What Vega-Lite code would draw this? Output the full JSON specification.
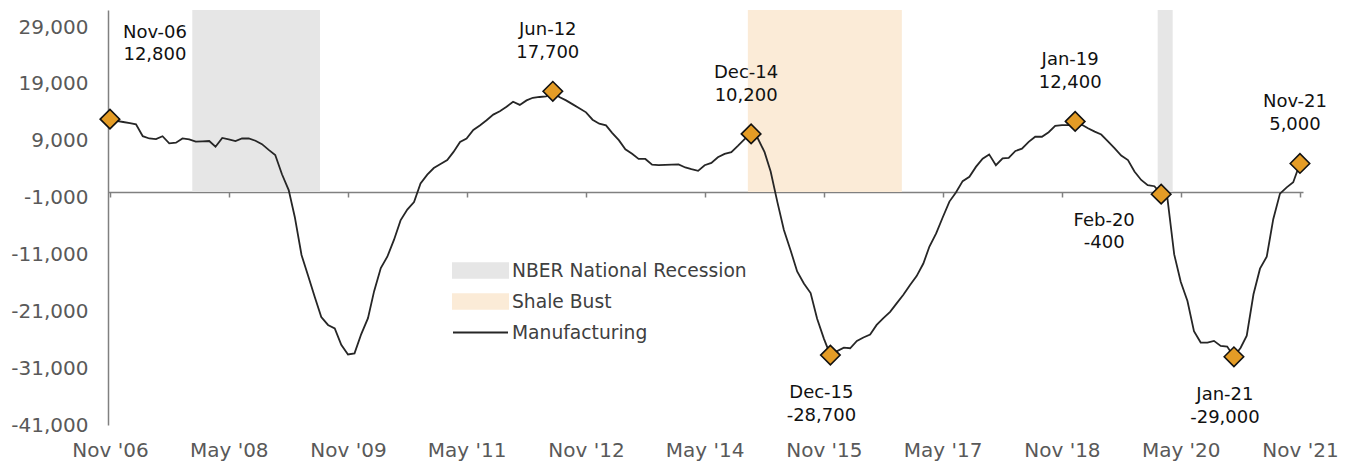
{
  "$schema": "https://vega.github.io/schema/vega-lite/v6.json",
  "width": 1195,
  "height": 415,
  "autosize": {"type": "none"},
  "padding": {"left": 108, "top": 10, "right": 46, "bottom": 40},
  "background": "white",
  "config": {
    "view": {"stroke": null},
    "font": "DejaVu Sans",
    "locale": {"number": {"decimal": ".", "thousands": ",", "grouping": [3], "currency": ["$", ""], "minus": "-"}}
  },
  "datasets": {
    "periods": [
      {"type": "NBER National Recession", "start": "2007-11-15", "end": "2009-06-25"},
      {"type": "Shale Bust", "start": "2014-11-16", "end": "2016-10-25"},
      {"type": "NBER National Recession", "start": "2020-01-16", "end": "2020-03-25"}
    ],
    "points": [
      {"label": "Nov-06", "date": "2006-11-01", "value": 12800},
      {"label": "Jun-12", "date": "2012-06-01", "value": 17700},
      {"label": "Dec-14", "date": "2014-12-01", "value": 10200},
      {"label": "Dec-15", "date": "2015-12-01", "value": -28700},
      {"label": "Jan-19", "date": "2019-01-01", "value": 12400},
      {"label": "Feb-20", "date": "2020-02-01", "value": -400},
      {"label": "Jan-21", "date": "2021-01-01", "value": -29000},
      {"label": "Nov-21", "date": "2021-11-01", "value": 5000}
    ],
    "series": [
      {"date": "2006-11-01", "value": 12800}, {"date": "2006-12-01", "value": 12500},
      {"date": "2007-01-01", "value": 12300}, {"date": "2007-02-01", "value": 12100}, {"date": "2007-03-01", "value": 11900}, {"date": "2007-04-01", "value": 9800}, {"date": "2007-05-01", "value": 9400}, {"date": "2007-06-01", "value": 9300}, {"date": "2007-07-01", "value": 9800}, {"date": "2007-08-01", "value": 8550}, {"date": "2007-09-01", "value": 8650}, {"date": "2007-10-01", "value": 9400}, {"date": "2007-11-01", "value": 9250}, {"date": "2007-12-01", "value": 8850},
      {"date": "2008-01-01", "value": 8900}, {"date": "2008-02-01", "value": 8950}, {"date": "2008-03-01", "value": 7950}, {"date": "2008-04-01", "value": 9500}, {"date": "2008-05-01", "value": 9250}, {"date": "2008-06-01", "value": 8950}, {"date": "2008-07-01", "value": 9400}, {"date": "2008-08-01", "value": 9400}, {"date": "2008-09-01", "value": 9000}, {"date": "2008-10-01", "value": 8400}, {"date": "2008-11-01", "value": 7400}, {"date": "2008-12-01", "value": 6500},
      {"date": "2009-01-01", "value": 3100}, {"date": "2009-02-01", "value": 330}, {"date": "2009-03-01", "value": -4400}, {"date": "2009-04-01", "value": -11100}, {"date": "2009-05-01", "value": -14700}, {"date": "2009-06-01", "value": -18500}, {"date": "2009-07-01", "value": -22000}, {"date": "2009-08-01", "value": -23400}, {"date": "2009-09-01", "value": -24000}, {"date": "2009-10-01", "value": -26900}, {"date": "2009-11-01", "value": -28600}, {"date": "2009-12-01", "value": -28400},
      {"date": "2010-01-01", "value": -25000}, {"date": "2010-02-01", "value": -22200}, {"date": "2010-03-01", "value": -17500}, {"date": "2010-04-01", "value": -13400}, {"date": "2010-05-01", "value": -11400}, {"date": "2010-06-01", "value": -8400}, {"date": "2010-07-01", "value": -5000}, {"date": "2010-08-01", "value": -3100}, {"date": "2010-09-01", "value": -1800}, {"date": "2010-10-01", "value": 1500}, {"date": "2010-11-01", "value": 3050}, {"date": "2010-12-01", "value": 4200},
      {"date": "2011-01-01", "value": 4900}, {"date": "2011-02-01", "value": 5600}, {"date": "2011-03-01", "value": 7000}, {"date": "2011-04-01", "value": 8800}, {"date": "2011-05-01", "value": 9400}, {"date": "2011-06-01", "value": 10900}, {"date": "2011-07-01", "value": 11700}, {"date": "2011-08-01", "value": 12600}, {"date": "2011-09-01", "value": 13600}, {"date": "2011-10-01", "value": 14200}, {"date": "2011-11-01", "value": 15000}, {"date": "2011-12-01", "value": 15860},
      {"date": "2012-01-01", "value": 15300}, {"date": "2012-02-01", "value": 16100}, {"date": "2012-03-01", "value": 16560}, {"date": "2012-04-01", "value": 16700}, {"date": "2012-05-01", "value": 16800}, {"date": "2012-06-01", "value": 17700}, {"date": "2012-07-01", "value": 16700}, {"date": "2012-08-01", "value": 16100}, {"date": "2012-09-01", "value": 15400}, {"date": "2012-10-01", "value": 14700}, {"date": "2012-11-01", "value": 14000}, {"date": "2012-12-01", "value": 12700},
      {"date": "2013-01-01", "value": 12000}, {"date": "2013-02-01", "value": 11700}, {"date": "2013-03-01", "value": 10400}, {"date": "2013-04-01", "value": 9100}, {"date": "2013-05-01", "value": 7500}, {"date": "2013-06-01", "value": 6700}, {"date": "2013-07-01", "value": 5800}, {"date": "2013-08-01", "value": 5800}, {"date": "2013-09-01", "value": 4800}, {"date": "2013-10-01", "value": 4700}, {"date": "2013-11-01", "value": 4750}, {"date": "2013-12-01", "value": 4800},
      {"date": "2014-01-01", "value": 4850}, {"date": "2014-02-01", "value": 4300}, {"date": "2014-03-01", "value": 4000}, {"date": "2014-04-01", "value": 3700}, {"date": "2014-05-01", "value": 4700}, {"date": "2014-06-01", "value": 5100}, {"date": "2014-07-01", "value": 6100}, {"date": "2014-08-01", "value": 6700}, {"date": "2014-09-01", "value": 7000}, {"date": "2014-10-01", "value": 8100}, {"date": "2014-11-01", "value": 9300}, {"date": "2014-12-01", "value": 10200},
      {"date": "2015-01-01", "value": 9400}, {"date": "2015-02-01", "value": 7000}, {"date": "2015-03-01", "value": 3600}, {"date": "2015-04-01", "value": -1800}, {"date": "2015-05-01", "value": -6700}, {"date": "2015-06-01", "value": -10300}, {"date": "2015-07-01", "value": -14000}, {"date": "2015-08-01", "value": -16100}, {"date": "2015-09-01", "value": -17800}, {"date": "2015-10-01", "value": -22300}, {"date": "2015-11-01", "value": -25800}, {"date": "2015-12-01", "value": -28700},
      {"date": "2016-01-01", "value": -28000}, {"date": "2016-02-01", "value": -27400}, {"date": "2016-03-01", "value": -27500}, {"date": "2016-04-01", "value": -26200}, {"date": "2016-05-01", "value": -25600}, {"date": "2016-06-01", "value": -25100}, {"date": "2016-07-01", "value": -23400}, {"date": "2016-08-01", "value": -22200}, {"date": "2016-09-01", "value": -21100}, {"date": "2016-10-01", "value": -19600}, {"date": "2016-11-01", "value": -18100}, {"date": "2016-12-01", "value": -16400},
      {"date": "2017-01-01", "value": -14800}, {"date": "2017-02-01", "value": -12600}, {"date": "2017-03-01", "value": -9600}, {"date": "2017-04-01", "value": -7300}, {"date": "2017-05-01", "value": -4500}, {"date": "2017-06-01", "value": -1700}, {"date": "2017-07-01", "value": -100}, {"date": "2017-08-01", "value": 1900}, {"date": "2017-09-01", "value": 2650}, {"date": "2017-10-01", "value": 4400}, {"date": "2017-11-01", "value": 5850}, {"date": "2017-12-01", "value": 6600},
      {"date": "2018-01-01", "value": 4700}, {"date": "2018-02-01", "value": 5900}, {"date": "2018-03-01", "value": 6000}, {"date": "2018-04-01", "value": 7200}, {"date": "2018-05-01", "value": 7600}, {"date": "2018-06-01", "value": 8800}, {"date": "2018-07-01", "value": 9700}, {"date": "2018-08-01", "value": 9700}, {"date": "2018-09-01", "value": 10500}, {"date": "2018-10-01", "value": 11600}, {"date": "2018-11-01", "value": 11760}, {"date": "2018-12-01", "value": 11760},
      {"date": "2019-01-01", "value": 12400}, {"date": "2019-02-01", "value": 11800}, {"date": "2019-03-01", "value": 11200}, {"date": "2019-04-01", "value": 10600}, {"date": "2019-05-01", "value": 10100}, {"date": "2019-06-01", "value": 8900}, {"date": "2019-07-01", "value": 7700}, {"date": "2019-08-01", "value": 6400}, {"date": "2019-09-01", "value": 5600}, {"date": "2019-10-01", "value": 3600}, {"date": "2019-11-01", "value": 2100}, {"date": "2019-12-01", "value": 1200},
      {"date": "2020-01-01", "value": 1000}, {"date": "2020-02-01", "value": -400}, {"date": "2020-03-01", "value": -1200}, {"date": "2020-04-01", "value": -11000}, {"date": "2020-05-01", "value": -15800}, {"date": "2020-06-01", "value": -19200}, {"date": "2020-07-01", "value": -24500}, {"date": "2020-08-01", "value": -26500}, {"date": "2020-09-01", "value": -26500}, {"date": "2020-10-01", "value": -26200}, {"date": "2020-11-01", "value": -27100}, {"date": "2020-12-01", "value": -27200},
      {"date": "2021-01-01", "value": -29000}, {"date": "2021-02-01", "value": -27400}, {"date": "2021-03-01", "value": -25300}, {"date": "2021-04-01", "value": -18000}, {"date": "2021-05-01", "value": -13500}, {"date": "2021-06-01", "value": -11400}, {"date": "2021-07-01", "value": -4800}, {"date": "2021-08-01", "value": -300}, {"date": "2021-09-01", "value": 800}, {"date": "2021-10-01", "value": 1700}, {"date": "2021-11-01", "value": 5000}
    ]
  },
  "layer": [
    {
      "data": {"name": "periods"},
      "mark": {"type": "rect", "opacity": 1},
      "encoding": {
        "x": {"field": "start", "type": "temporal", "scale": {"type": "utc", "domain": [{"year": 2006, "month": 10, "date": 23, "utc": true}, {"year": 2021, "month": 11, "date": 15, "utc": true}]},
          "axis": {"values": [{"year": 2006, "month": 11, "date": 1, "utc": true}, {"year": 2008, "month": 5, "date": 1, "utc": true}, {"year": 2009, "month": 11, "date": 1, "utc": true}, {"year": 2011, "month": 5, "date": 1, "utc": true}, {"year": 2012, "month": 11, "date": 1, "utc": true}, {"year": 2014, "month": 5, "date": 1, "utc": true}, {"year": 2015, "month": 11, "date": 1, "utc": true}, {"year": 2017, "month": 5, "date": 1, "utc": true}, {"year": 2018, "month": 11, "date": 1, "utc": true}, {"year": 2020, "month": 5, "date": 1, "utc": true}, {"year": 2021, "month": 11, "date": 1, "utc": true}],
            "format": "%b '%y", "title": null, "grid": false, "offset": -233, "tickSize": 5, "tickWidth": 1.5, "tickColor": "#808080", "domainColor": "#808080", "domainWidth": 1.5, "labelPadding": 243, "labelFontSize": 20, "labelFont": "DejaVu Sans", "labelColor": "#595959", "labelFlush": false, "labelOverlap": false}},
        "x2": {"field": "end"},
        "y": {"datum": 0, "type": "quantitative", "scale": {"domain": [-41000, 32000], "nice": false, "zero": false},
          "axis": {"values": [-41000, -31000, -21000, -11000, -1000, 9000, 19000, 29000], "format": ",.0f", "title": null, "grid": false, "ticks": false, "labelPadding": 20, "domainColor": "#808080", "domainWidth": 1.5, "labelFontSize": 20, "labelFont": "DejaVu Sans", "labelColor": "#595959"}},
        "y2": {"datum": 32000},
        "color": {"field": "type", "type": "nominal",
          "scale": {"domain": ["NBER National Recession", "Shale Bust", "Manufacturing"], "range": ["#e6e6e6", "#fbebd7", "#262626"]},
          "legend": {"orient": "none", "legendX": 344, "legendY": 245, "title": null, "direction": "vertical", "padding": 0, "offset": 0, "rowPadding": 0, "clipHeight": 31,
            "symbolSize": 3025, "symbolType": "M-1,-0.26H1V0.26H-1Z", "labelOffset": 3, "labelLimit": 400, "labelFontSize": 18.7, "labelFont": "DejaVu Sans", "labelColor": "#404040",
            "encode": {"symbols": {"update": {
              "shape": {"signal": "datum.value === 'Manufacturing' ? 'M-1,0H1' : 'M-1,-0.26H1V0.26H-1Z'"},
              "fill": {"signal": "datum.value === 'Manufacturing' ? 'transparent' : (datum.value === 'Shale Bust' ? '#fbebd7' : '#e6e6e6')"},
              "stroke": {"signal": "datum.value === 'Manufacturing' ? '#262626' : 'transparent'"},
              "strokeWidth": {"value": 2},
              "opacity": {"value": 1}
            }}}}
        }
      }
    },
    {
      "data": {"name": "series"},
      "mark": {"type": "line", "strokeWidth": 1.8},
      "encoding": {
        "x": {"field": "date", "type": "temporal"},
        "y": {"field": "value", "type": "quantitative"},
        "color": {"datum": "Manufacturing", "type": "nominal",
          "legend": {"orient": "none", "legendX": 344, "legendY": 245, "title": null, "direction": "vertical", "padding": 0, "offset": 0, "rowPadding": 0, "clipHeight": 31,
            "symbolSize": 3025, "symbolType": "M-1,-0.26H1V0.26H-1Z", "labelOffset": 3, "labelLimit": 400, "labelFontSize": 18.7, "labelFont": "DejaVu Sans", "labelColor": "#404040",
            "encode": {"symbols": {"update": {
              "shape": {"signal": "datum.value === 'Manufacturing' ? 'M-1,0H1' : 'M-1,-0.26H1V0.26H-1Z'"},
              "fill": {"signal": "datum.value === 'Manufacturing' ? 'transparent' : (datum.value === 'Shale Bust' ? '#fbebd7' : '#e6e6e6')"},
              "stroke": {"signal": "datum.value === 'Manufacturing' ? '#262626' : 'transparent'"},
              "strokeWidth": {"value": 2},
              "opacity": {"value": 1}
            }}}}
        }
      }
    },
    {
      "data": {"name": "points"},
      "mark": {"type": "point", "shape": "diamond", "filled": true, "fill": "#e49c26", "stroke": "#111111", "strokeWidth": 1.6, "size": 380, "opacity": 1},
      "encoding": {
        "x": {"field": "date", "type": "temporal"},
        "y": {"field": "value", "type": "quantitative"}
      }
    },
    {
      "data": {"name": "points"},
      "transform": [{"filter": {"field": "label", "oneOf": ["Jun-12", "Dec-14", "Jan-19", "Nov-21"]}}],
      "mark": {"type": "text", "fontSize": 18, "font": "DejaVu Sans", "color": "#111111", "align": "center", "baseline": "middle", "dx": -5, "dy": -61},
      "encoding": {"x": {"field": "date", "type": "temporal"}, "y": {"field": "value", "type": "quantitative"}, "text": {"field": "label"}}
    },
    {
      "data": {"name": "points"},
      "transform": [{"filter": {"field": "label", "oneOf": ["Jun-12", "Dec-14", "Jan-19", "Nov-21"]}}],
      "mark": {"type": "text", "fontSize": 18, "font": "DejaVu Sans", "color": "#111111", "align": "center", "baseline": "middle", "dx": -5, "dy": -38},
      "encoding": {"x": {"field": "date", "type": "temporal"}, "y": {"field": "value", "type": "quantitative"}, "text": {"field": "value", "type": "quantitative", "format": ","}}
    },
    {
      "data": {"name": "points"},
      "transform": [{"filter": {"field": "label", "oneOf": ["Dec-15", "Jan-21"]}}],
      "mark": {"type": "text", "fontSize": 18, "font": "DejaVu Sans", "color": "#111111", "align": "center", "baseline": "middle", "dx": -9, "dy": 38},
      "encoding": {"x": {"field": "date", "type": "temporal"}, "y": {"field": "value", "type": "quantitative"}, "text": {"field": "label"}}
    },
    {
      "data": {"name": "points"},
      "transform": [{"filter": {"field": "label", "oneOf": ["Dec-15", "Jan-21"]}}],
      "mark": {"type": "text", "fontSize": 18, "font": "DejaVu Sans", "color": "#111111", "align": "center", "baseline": "middle", "dx": -9, "dy": 61},
      "encoding": {"x": {"field": "date", "type": "temporal"}, "y": {"field": "value", "type": "quantitative"}, "text": {"field": "value", "type": "quantitative", "format": ","}}
    },
    {
      "data": {"name": "points"},
      "transform": [{"filter": {"field": "label", "equal": "Nov-06"}}],
      "mark": {"type": "text", "fontSize": 18, "font": "DejaVu Sans", "color": "#111111", "align": "center", "baseline": "middle", "dx": 45, "dy": -86},
      "encoding": {"x": {"field": "date", "type": "temporal"}, "y": {"field": "value", "type": "quantitative"}, "text": {"field": "label"}}
    },
    {
      "data": {"name": "points"},
      "transform": [{"filter": {"field": "label", "equal": "Nov-06"}}],
      "mark": {"type": "text", "fontSize": 18, "font": "DejaVu Sans", "color": "#111111", "align": "center", "baseline": "middle", "dx": 45, "dy": -64},
      "encoding": {"x": {"field": "date", "type": "temporal"}, "y": {"field": "value", "type": "quantitative"}, "text": {"field": "value", "type": "quantitative", "format": ","}}
    },
    {
      "data": {"name": "points"},
      "transform": [{"filter": {"field": "label", "equal": "Feb-20"}}],
      "mark": {"type": "text", "fontSize": 18, "font": "DejaVu Sans", "color": "#111111", "align": "center", "baseline": "middle", "dx": -57, "dy": 27},
      "encoding": {"x": {"field": "date", "type": "temporal"}, "y": {"field": "value", "type": "quantitative"}, "text": {"field": "label"}}
    },
    {
      "data": {"name": "points"},
      "transform": [{"filter": {"field": "label", "equal": "Feb-20"}}],
      "mark": {"type": "text", "fontSize": 18, "font": "DejaVu Sans", "color": "#111111", "align": "center", "baseline": "middle", "dx": -57, "dy": 49},
      "encoding": {"x": {"field": "date", "type": "temporal"}, "y": {"field": "value", "type": "quantitative"}, "text": {"field": "value", "type": "quantitative", "format": ","}}
    }
  ]
}
